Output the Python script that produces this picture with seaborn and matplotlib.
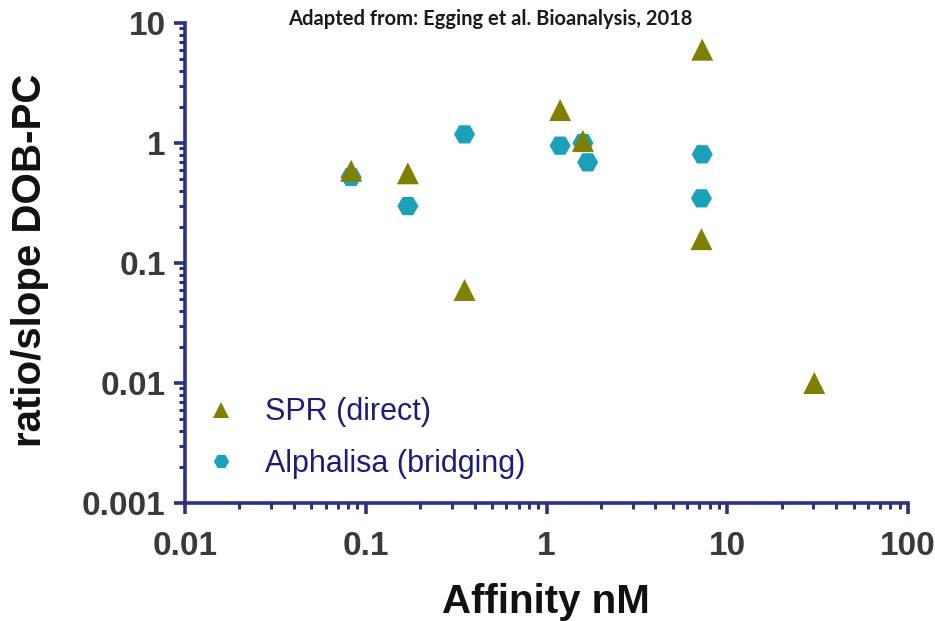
import matplotlib
matplotlib.use("Agg")
import matplotlib.pyplot as plt
import seaborn as sns
import pandas as pd
import numpy as np
from matplotlib.ticker import LogLocator, FixedLocator, FixedFormatter, NullFormatter
from matplotlib.lines import Line2D

# ---- data ----
spr_affinity = [0.083, 0.171, 0.352, 1.19, 1.59, 7.27, 7.2, 30.3]
spr_ratio = [0.587, 0.559, 0.0596, 1.88, 1.04, 5.99, 0.158, 0.0100]
alpha_affinity = [0.083, 0.171, 0.352, 1.19, 1.59, 1.69, 7.27, 7.2]
alpha_ratio = [0.521, 0.298, 1.18, 0.95, 1.0, 0.69, 0.805, 0.346]
series_names = ["SPR (direct)", "Alphalisa (bridging)"]
x_ticks = [0.01, 0.1, 1, 10, 100]
x_ticklabels = ["0.01", "0.1", "1", "10", "100"]
y_ticks = [0.001, 0.01, 0.1, 1, 10]
y_ticklabels = ["0.001", "0.01", "0.1", "1", "10"]

df = pd.DataFrame({
    "Affinity": spr_affinity + alpha_affinity,
    "Ratio": spr_ratio + alpha_ratio,
    "Method": [series_names[0]] * len(spr_affinity) + [series_names[1]] * len(alpha_affinity),
})

navy = "#2b3282"
olive = "#808000"
teal = "#1aa0b8"
tickgray = "#3a3a3a"

sns.set_style("white")
plt.rcParams["font.family"] = ["Liberation Sans", "DejaVu Sans"]

fig = plt.figure(figsize=(9.35, 6.21), dpi=100)
ax = fig.add_axes([185/935, 1-503/621, (908-185)/935, (503-23)/621])

# Alphalisa first so triangles are drawn on top
sns.scatterplot(data=df[df.Method == series_names[1]], x="Affinity", y="Ratio",
                color=teal, marker="H", s=230, edgecolor="none", ax=ax, legend=False, zorder=3)
sns.scatterplot(data=df[df.Method == series_names[0]], x="Affinity", y="Ratio",
                color=olive, marker="^", s=250, edgecolor="none", ax=ax, legend=False, zorder=4)

ax.set_xscale("log")
ax.set_yscale("log")
ax.set_xlim(0.01, 100)
ax.set_ylim(0.001, 10)

for side in ["top", "right"]:
    ax.spines[side].set_visible(False)
for side in ["left", "bottom"]:
    ax.spines[side].set_color(navy)
    ax.spines[side].set_linewidth(2.6)

ax.xaxis.set_major_locator(FixedLocator(x_ticks))
ax.xaxis.set_major_formatter(FixedFormatter(x_ticklabels))
ax.yaxis.set_major_locator(FixedLocator(y_ticks))
ax.yaxis.set_major_formatter(FixedFormatter(y_ticklabels))
ax.xaxis.set_minor_locator(LogLocator(base=10, subs=np.arange(2, 10), numticks=20))
ax.yaxis.set_minor_locator(LogLocator(base=10, subs=np.arange(2, 10), numticks=20))
ax.xaxis.set_minor_formatter(NullFormatter())
ax.yaxis.set_minor_formatter(NullFormatter())

ax.tick_params(which="major", direction="out", length=8, width=2.6, color=navy,
               labelsize=24, labelcolor=tickgray)
ax.tick_params(axis="x", which="major", pad=12)
ax.tick_params(axis="y", which="major", pad=6)
ax.tick_params(which="minor", direction="out", length=4, width=2.2, color=navy)
ax.tick_params(axis="x", which="both", bottom=True)
ax.tick_params(axis="y", which="both", left=True)
for lab in ax.get_xticklabels() + ax.get_yticklabels():
    lab.set_fontweight("bold")

ax.set_xlabel("Affinity nM", fontsize=29, fontweight="bold", color="#111111")
ax.set_ylabel("ratio/slope DOB-PC", fontsize=29, fontweight="bold", color="#111111")
ax.xaxis.label.set_va("center")
ax.yaxis.label.set_va("center")
ax.xaxis.set_label_coords(0.5 * (445 + 647) / 1 / 723 - 185 / 723, (503 - 602) / 480)
ax.yaxis.set_label_coords((30 - 185) / 723, (503 - 260) / 480)

fig.text(490/935, 1-19/621, "Adapted from: Egging et al. Bioanalysis, 2018",
         ha="center", va="center", fontsize=14.5, fontweight="bold", color="#1a1a1a",
         family=["Lato", "DejaVu Sans"])

handles = [
    Line2D([], [], marker="^", color=olive, linestyle="none", markersize=11, markeredgewidth=0),
    Line2D([], [], marker="H", color=teal, linestyle="none", markersize=11, markeredgewidth=0),
]
leg = ax.legend(handles, series_names, loc="center left",
                bbox_to_anchor=((205.5 - 185) / 723, (503 - 438) / 480),
                frameon=False, fontsize=22, handletextpad=0.95, labelspacing=0.7,
                handlelength=1.0, borderpad=0, borderaxespad=0)
for t in leg.get_texts():
    t.set_color("#1c1c7a")

fig.savefig("out.png", dpi=100)
